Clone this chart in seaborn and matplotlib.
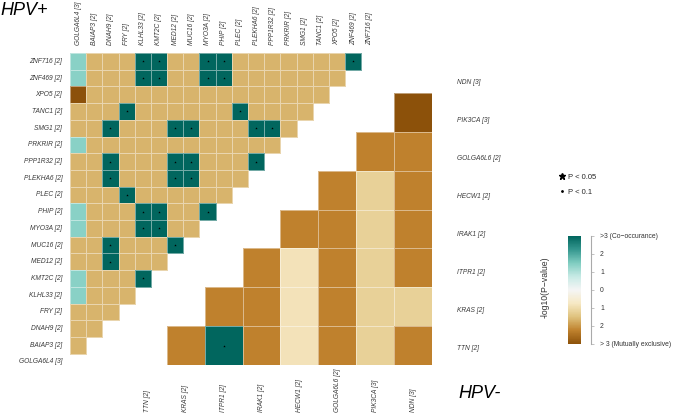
import numpy as np
import pandas as pd
import matplotlib
matplotlib.use("Agg")
import matplotlib.pyplot as plt
import seaborn as sns
from matplotlib.colors import LinearSegmentedColormap, Normalize
from matplotlib.cm import ScalarMappable
from matplotlib.lines import Line2D

sns.set_theme(style="white")
plt.rcParams['font.family'] = ['Liberation Sans', 'DejaVu Sans']

# ---------------- HPV+ data ----------------
pos_genes = ["GOLGA6L4", "BAIAP3", "DNAH9", "FRY", "KLHL33", "KMT2C", "MED12",
             "MUC16", "MYO3A", "PHIP", "PLEC", "PLEKHA6", "PPP1R32", "PRKRIR",
             "SMG1", "TANC1", "XPO5", "ZNF469", "ZNF716"]
pos_counts = [3, 2, 2, 2, 2, 2, 2, 2, 2, 2, 2, 2, 2, 2, 2, 2, 2, 2, 2]
# significant co-occurrence (P < 0.05) pairs (row gene, column gene)
pos_sig_co = [("ZNF716", "KLHL33"), ("ZNF716", "KMT2C"), ("ZNF716", "MYO3A"),
              ("ZNF716", "PHIP"), ("ZNF716", "ZNF469"),
              ("ZNF469", "KLHL33"), ("ZNF469", "KMT2C"), ("ZNF469", "MYO3A"),
              ("ZNF469", "PHIP"),
              ("TANC1", "FRY"), ("TANC1", "PLEC"),
              ("SMG1", "DNAH9"), ("SMG1", "MED12"), ("SMG1", "MUC16"),
              ("SMG1", "PLEKHA6"), ("SMG1", "PPP1R32"),
              ("PPP1R32", "DNAH9"), ("PPP1R32", "MED12"), ("PPP1R32", "MUC16"),
              ("PPP1R32", "PLEKHA6"),
              ("PLEKHA6", "DNAH9"), ("PLEKHA6", "MED12"), ("PLEKHA6", "MUC16"),
              ("PLEC", "FRY"),
              ("PHIP", "KLHL33"), ("PHIP", "KMT2C"), ("PHIP", "MYO3A"),
              ("MYO3A", "KLHL33"), ("MYO3A", "KMT2C"),
              ("MUC16", "DNAH9"), ("MUC16", "MED12"),
              ("MED12", "DNAH9"),
              ("KMT2C", "KLHL33")]
pos_mild_co = [("ZNF716", "GOLGA6L4"), ("ZNF469", "GOLGA6L4"), ("PRKRIR", "GOLGA6L4"),
               ("PHIP", "GOLGA6L4"), ("MYO3A", "GOLGA6L4"), ("KMT2C", "GOLGA6L4"),
               ("KLHL33", "GOLGA6L4")]
pos_strong_ex = [("XPO5", "GOLGA6L4")]
pos_sig_value = 3.0
pos_mild_value = 1.4
pos_strong_ex_value = -3.0
pos_default_value = -1.65

# ---------------- HPV- data ----------------
neg_genes = ["TTN", "KRAS", "ITPR1", "IRAK1", "HECW1", "GOLGA6L6", "PIK3CA", "NDN"]
neg_counts = [2, 2, 2, 2, 2, 2, 3, 3]
# values of each row for the columns to the right of the row gene
neg_TTN = [-2.25, 3.0, -2.25, -0.85, -2.25, -1.2, -2.25]
neg_KRAS = [-2.25, -2.25, -0.85, -2.25, -1.2, -1.2]
neg_ITPR1 = [-2.25, -0.85, -2.25, -1.2, -2.25]
neg_IRAK1 = [-2.25, -2.25, -1.2, -2.25]
neg_HECW1 = [-2.25, -1.2, -2.25]
neg_GOLGA6L6 = [-2.25, -2.25]
neg_PIK3CA = [-3.0]
neg_NDN = []
neg_sig = [("TTN", "ITPR1")]

# ---------------- colour scale ----------------
cmap = LinearSegmentedColormap.from_list(
    "brbg_trunc", ['#8c510a', '#bf812d', '#dfc27d', '#f6e8c3', '#f5f5f5',
                   '#c7eae5', '#80cdc1', '#35978f', '#01665e'])

# ---------------- build tables ----------------
pos_labels = [f"{g} [{n}]" for g, n in zip(pos_genes, pos_counts)]
pos_rows = pos_genes[::-1]
pos_df = pd.DataFrame(np.nan, index=pos_rows, columns=pos_genes)
for r in pos_rows:
    ri = pos_genes.index(r)
    for c in pos_genes[:ri]:
        pos_df.loc[r, c] = pos_default_value
for r, c in pos_sig_co:
    pos_df.loc[r, c] = pos_sig_value
for r, c in pos_mild_co:
    pos_df.loc[r, c] = pos_mild_value
for r, c in pos_strong_ex:
    pos_df.loc[r, c] = pos_strong_ex_value

neg_labels = [f"{g} [{n}]" for g, n in zip(neg_genes, neg_counts)]
neg_rows_vals = [neg_TTN, neg_KRAS, neg_ITPR1, neg_IRAK1, neg_HECW1,
                 neg_GOLGA6L6, neg_PIK3CA, neg_NDN]
neg_df = pd.DataFrame(np.nan, index=neg_genes[::-1], columns=neg_genes)
for i, (g, vals) in enumerate(zip(neg_genes, neg_rows_vals)):
    for j, v in enumerate(vals):
        neg_df.loc[g, neg_genes[i + 1 + j]] = v

# ---------------- figure ----------------
W, H = 674, 416
fig = plt.figure(figsize=(W / 100, H / 100), dpi=100)
fig.patch.set_facecolor('white')

def frac(x0, y0, x1, y1):
    return [x0 / W, 1 - y1 / H, (x1 - x0) / W, (y1 - y0) / H]

def hide_empty_edges(ax, rgba=(1, 1, 1, 0.45)):
    mesh = ax.collections[0]
    arr = mesh.get_array()
    mask = np.ma.getmaskarray(arr).ravel()
    ec = np.tile(np.array(rgba, dtype=float), (mask.size, 1))
    ec[mask, 3] = 0.0
    mesh.set_edgecolor(ec)

label_color = '#3a3a3a'
gfs = 4.8
line_kw = dict(linewidths=0.6, linecolor=(1, 1, 1, 0.45))

# HPV+ heatmap
ax_pos = fig.add_axes(frac(70, 53, 70 + 19 * 16.18, 53 + 19 * 16.7))
sns.heatmap(pos_df, ax=ax_pos, cmap=cmap, vmin=-3, vmax=3, cbar=False,
            xticklabels=True, yticklabels=True, **line_kw)
hide_empty_edges(ax_pos)
ax_pos.set_facecolor('none')
ax_pos.xaxis.tick_top()
ax_pos.set_xticks(np.arange(len(pos_genes)) + 0.5)
ax_pos.set_xticklabels(pos_labels, rotation=90, ha='center', va='bottom',
                       fontsize=gfs, style='italic', color=label_color)
ax_pos.set_yticks(np.arange(len(pos_rows)) + 0.5)
ax_pos.set_yticklabels([pos_labels[pos_genes.index(g)] for g in pos_rows],
                       rotation=0, fontsize=gfs, style='italic', color=label_color)
ax_pos.tick_params(axis='x', length=0, pad=6.0)
ax_pos.tick_params(axis='y', length=0, pad=5.5)
ax_pos.set_xlabel('')
ax_pos.set_ylabel('')
sx = [pos_genes.index(c) + 0.5 for r, c in pos_sig_co]
sy = [pos_rows.index(r) + 0.5 for r, c in pos_sig_co]
ax_pos.scatter(sx, sy, marker='*', s=3.5, color='black', linewidths=0, zorder=5)

# HPV- heatmap
ax_neg = fig.add_axes(frac(128.8, 54, 432, 365))
sns.heatmap(neg_df, ax=ax_neg, cmap=cmap, vmin=-3, vmax=3, cbar=False,
            xticklabels=True, yticklabels=True, **line_kw)
hide_empty_edges(ax_neg)
ax_neg.set_facecolor('none')
ax_neg.set_xticks(np.arange(len(neg_genes)) + 0.5)
ax_neg.set_xticklabels(neg_labels, rotation=90, ha='left', va='center',
                       rotation_mode='anchor', fontsize=gfs, style='italic',
                       color=label_color)
ax_neg.yaxis.tick_right()
neg_rows = neg_genes[::-1]
ax_neg.set_yticks([0.72 + 0.975 * i for i in range(len(neg_rows))])
ax_neg.set_yticklabels([neg_labels[neg_genes.index(g)] for g in neg_rows],
                       rotation=0, ha='left', fontsize=gfs, style='italic',
                       color=label_color)
ax_neg.tick_params(axis='x', length=0, pad=34)
ax_neg.tick_params(axis='y', length=0, pad=18)
ax_neg.set_xlabel('')
ax_neg.set_ylabel('')
nx = [neg_genes.index(c) + 0.5 for r, c in neg_sig]
ny = [neg_rows.index(r) + 0.5 for r, c in neg_sig]
ax_neg.scatter(nx, ny, marker='*', s=3.5, color='black', linewidths=0, zorder=5)

# Titles
fig.text(0.0, 1 - 15 / H, "HPV+", fontsize=13, style='italic', ha='left',
         va='baseline', color='black')
fig.text(458 / W, 1 - 398 / H, "HPV-", fontsize=13, style='italic', ha='left',
         va='baseline', color='black')

# Significance legend
handles = [Line2D([], [], marker='*', color='black', ls='none', markersize=4.5),
           Line2D([], [], marker='.', color='black', ls='none', markersize=2)]
fig.legend(handles=handles, labels=['P < 0.05', 'P < 0.1'], loc='center left',
           bbox_to_anchor=(559 / W, 1 - 184.5 / H), frameon=False, fontsize=5.5,
           handlelength=0.8, handletextpad=0.4, labelspacing=1.0,
           borderpad=0, borderaxespad=0)

# Colour bar
cax = fig.add_axes(frac(568, 236, 581, 344))
sm = ScalarMappable(norm=Normalize(-3, 3), cmap=cmap)
cb = fig.colorbar(sm, cax=cax)
cb.outline.set_visible(False)
cb.set_ticks([3, 2, 1, 0, -1, -2, -3])
cb.set_ticklabels([">3 (Co\u2212occurance)", "2", "1", "0", "1", "2",
                   "> 3 (Mutually exclusive)"])
cax.spines['right'].set_visible(True)
cax.spines['right'].set_position(('outward', 7.2))
cax.spines['right'].set_color('#aaaaaa')
cax.spines['right'].set_linewidth(0.8)
cax.tick_params(axis='y', length=2, width=0.5, color='#aaaaaa', pad=4.5,
                labelsize=4.9, labelcolor='#333333')
fig.text(545 / W, 1 - 287 / H, "-log10(P\u2212value)", rotation=90, ha='center',
         va='center', fontsize=6.2, color='#333333')

fig.savefig("out.png", dpi=100)
